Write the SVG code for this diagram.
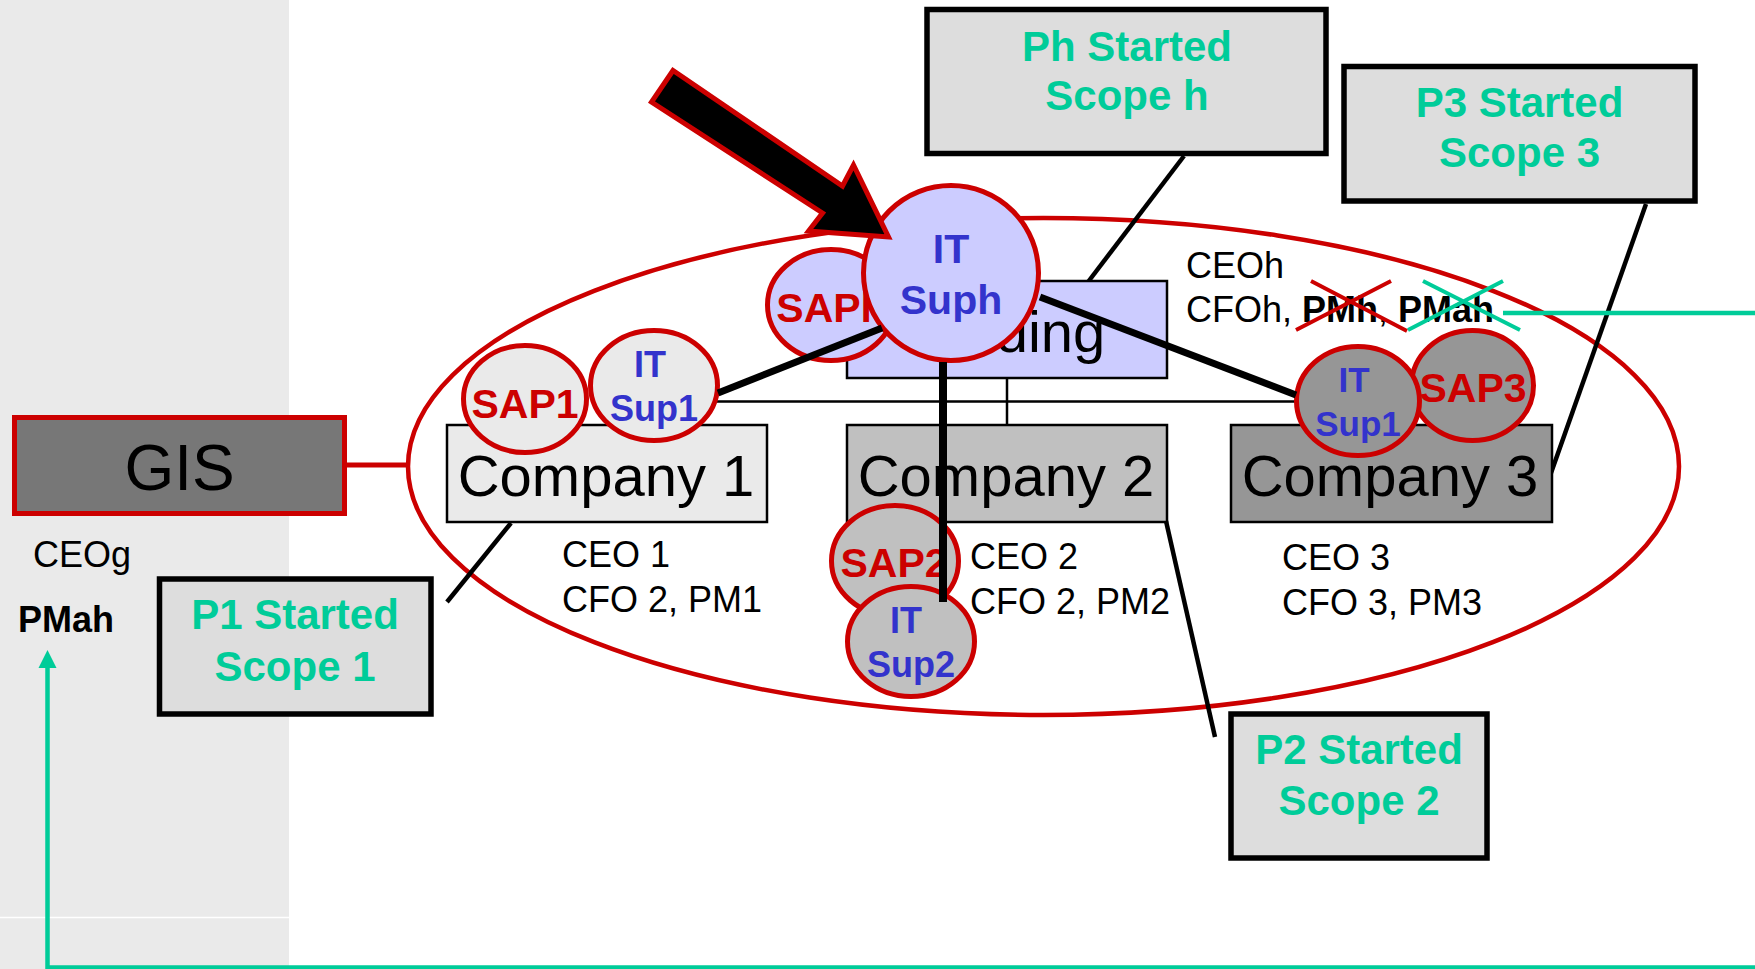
<svg xmlns="http://www.w3.org/2000/svg" width="1755" height="969" viewBox="0 0 1755 969">
<style>
  .lbl{font-family:"Liberation Sans",Arial,sans-serif;font-size:36px;fill:#000}
  .b{font-weight:bold}
  .co{font-family:"Liberation Sans",Arial,sans-serif;font-size:58px;fill:#000;text-anchor:middle}
  .call rect{fill:#DDDDDD;stroke:#000;stroke-width:5.5}
  .call text{font-family:"Liberation Sans",Arial,sans-serif;font-size:42px;font-weight:bold;fill:#00CC99;text-anchor:middle}
  .circ ellipse{stroke:#CC0000;stroke-width:5}
  .red{font-family:"Liberation Sans",Arial,sans-serif;font-size:41px;font-weight:bold;fill:#CC0000;text-anchor:middle}
  .blue{font-family:"Liberation Sans",Arial,sans-serif;font-size:36px;font-weight:bold;fill:#3333CC;text-anchor:middle}
  .cbox{stroke:#000;stroke-width:2.5}
  .thin{stroke:#000;stroke-width:2.5;fill:none}
  .callline{stroke:#000;stroke-width:4.5;fill:none}
  .thick{stroke:#000;stroke-width:8;fill:none}
  .green{stroke:#00CC99;stroke-width:4.5;fill:none}
</style>
<defs>
  <marker id="garrow" markerUnits="userSpaceOnUse" markerWidth="20" markerHeight="20" viewBox="0 0 20 20" refX="0" refY="10" orient="auto">
    <path d="M0,1 L18,10 L0,19 z" fill="#00CC99"/>
  </marker>
</defs>

<!-- background panel -->
<rect x="0" y="0" width="289" height="969" fill="#EAEAEA"/>
<line x1="0" y1="917.5" x2="289" y2="917.5" stroke="#FFFFFF" stroke-width="1.5"/>

<!-- group ellipse -->
<ellipse id="group-ellipse" cx="1043.5" cy="466.5" rx="635.5" ry="248.5" fill="none" stroke="#CC0000" stroke-width="4.5"/>

<g id="connectors">
  <line x1="347" y1="465" x2="409" y2="465" stroke="#CC0000" stroke-width="5"/>
  <path class="thin" d="M1007,378 V401.5 M607,401.5 H1391 M607,401.5 V425 M1007,401.5 V425 M1391,401.5 V425"/>
  <line class="callline" x1="1184" y1="156" x2="1088" y2="282"/>
  <line class="callline" x1="1646" y1="204" x2="1551" y2="473"/>
  <line class="callline" x1="511" y1="523" x2="447" y2="602"/>
  <line class="callline" x1="1166" y1="521" x2="1215" y2="737"/>
  <path class="green" d="M1503,313 H1762 V967.5 H47.5 V668" marker-end="url(#garrow)"/>
</g>

<g id="gis">
  <rect x="14.5" y="417.5" width="330" height="96" fill="#777777" stroke="#CC0000" stroke-width="5"/>
  <text x="179.5" y="490" font-family="Liberation Sans, Arial, sans-serif" font-size="64" text-anchor="middle" fill="#000">GIS</text>
</g>

<g id="holding">
  <rect class="cbox" x="847" y="281" width="320" height="97" fill="#CCCCFF"/>
  <text class="co" x="1007" y="352">Holding</text>
</g>
<g id="company1">
  <rect class="cbox" x="447" y="425" width="320" height="97" fill="#EAEAEA"/>
  <text class="co" x="606" y="496">Company 1</text>
</g>
<g id="company2">
  <rect class="cbox" x="847" y="425" width="320" height="97" fill="#C0C0C0"/>
  <text class="co" x="1006" y="496">Company 2</text>
</g>
<g id="company3">
  <rect class="cbox" x="1231" y="425" width="321" height="97" fill="#969696"/>
  <text class="co" x="1390" y="496">Company 3</text>
</g>

<g id="call-ph" class="call">
  <rect x="927" y="9.5" width="399" height="144"/>
  <text x="1127" y="61">Ph Started</text>
  <text x="1127" y="110">Scope h</text>
</g>
<g id="call-p3" class="call">
  <rect x="1344" y="66.5" width="351" height="134.5"/>
  <text x="1519.5" y="117">P3 Started</text>
  <text x="1519.5" y="167">Scope 3</text>
</g>
<g id="call-p1" class="call">
  <rect x="159.5" y="579" width="271.5" height="135"/>
  <text x="295" y="629">P1 Started</text>
  <text x="295" y="681">Scope 1</text>
</g>
<g id="call-p2" class="call">
  <rect x="1231" y="714" width="256" height="144"/>
  <text x="1359" y="764">P2 Started</text>
  <text x="1359" y="815">Scope 2</text>
</g>

<!-- support circles -->
<g id="sap1" class="circ">
  <ellipse cx="525" cy="399" rx="61.5" ry="53.5" fill="#EAEAEA"/>
  <text class="red" x="525" y="418">SAP1</text>
</g>
<g id="itsup1-c1" class="circ">
  <ellipse cx="654" cy="385.5" rx="63.5" ry="55" fill="#EAEAEA"/>
  <text class="blue" x="650" y="377">IT</text>
  <text class="blue" x="654" y="421">Sup1</text>
</g>
<g id="saph" class="circ">
  <ellipse cx="831" cy="305" rx="63.5" ry="55.5" fill="#CCCCFF"/>
  <text class="red" x="831" y="322">SAPh</text>
</g>
<g id="itsuph" class="circ">
  <ellipse cx="951" cy="273" rx="87.5" ry="87.5" fill="#CCCCFF"/>
  <text class="blue" x="951" y="263" style="font-size:41px">IT</text>
  <text class="blue" x="951" y="314" style="font-size:41px">Suph</text>
</g>
<g id="sap3" class="circ">
  <ellipse cx="1472.5" cy="385.5" rx="61" ry="55" fill="#969696"/>
  <text class="red" x="1473" y="402">SAP3</text>
</g>
<g id="itsup1-c3" class="circ">
  <ellipse cx="1358" cy="401" rx="61.5" ry="54.5" fill="#969696"/>
  <text class="blue" x="1354" y="392" style="font-size:35px">IT</text>
  <text class="blue" x="1358" y="436" style="font-size:35px">Sup1</text>
</g>
<g id="sap2" class="circ">
  <ellipse cx="895" cy="561" rx="63.5" ry="55.5" fill="#C0C0C0"/>
  <text class="red" x="894" y="577">SAP2</text>
</g>
<g id="itsup2" class="circ">
  <ellipse cx="911" cy="641.5" rx="63.5" ry="55" fill="#C0C0C0"/>
  <text class="blue" x="906" y="633">IT</text>
  <text class="blue" x="911" y="677">Sup2</text>
</g>

<g id="support-links">
  <line class="thick" x1="718" y1="393" x2="882" y2="328" style="stroke-width:7"/>
  <line class="thick" x1="1040" y1="297" x2="1296" y2="395" style="stroke-width:7"/>
  <line class="thick" x1="943" y1="362" x2="943" y2="602"/>
</g>

<!-- role labels -->
<g id="labels">
  <text class="lbl" x="33" y="567">CEOg</text>
  <text class="lbl b" x="18" y="632">PMah</text>
  <text class="lbl" x="562" y="567">CEO 1</text>
  <text class="lbl" x="562" y="612">CFO 2, PM1</text>
  <text class="lbl" x="970" y="569">CEO 2</text>
  <text class="lbl" x="970" y="614">CFO 2, PM2</text>
  <text class="lbl" x="1282" y="570">CEO 3</text>
  <text class="lbl" x="1282" y="615">CFO 3, PM3</text>
  <text class="lbl" x="1186" y="278">CEOh</text>
  <text class="lbl" x="1186" y="322">CFOh, <tspan class="b">PMh</tspan>, <tspan class="b">PMah</tspan></text>
</g>
<g id="strikes">
  <path d="M1311,281 L1407,331 M1296,330 L1391,281" stroke="#CC0000" stroke-width="4" fill="none"/>
  <path d="M1423,281 L1520,330 M1408,330 L1503,281" stroke="#00CC99" stroke-width="4" fill="none"/>
</g>

<!-- big pointer arrow -->
<g id="pointer">
  <polygon points="673,70.5 651.5,102 822.5,213 808.5,231 888.5,237 853.5,165 842.5,186" fill="#000" stroke="#CC0000" stroke-width="5" stroke-linejoin="miter"/>
</g>
</svg>
